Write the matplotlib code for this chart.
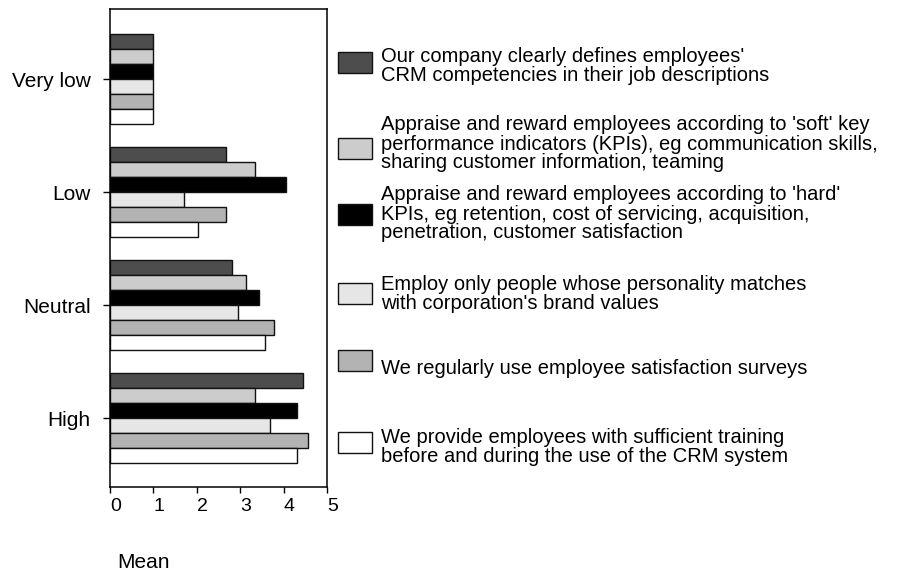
import matplotlib.pyplot as plt
import numpy as np
from matplotlib.patches import Rectangle

plt.rcParams['font.family'] = ['Liberation Sans', 'DejaVu Sans']

# data: mean score per rating group for each practice
levels = ['Very low', 'Low', 'Neutral', 'High']
defines_competencies = [1.0, 2.67, 2.8, 4.45]
soft_kpis = [1.0, 3.33, 3.13, 3.35]
hard_kpis = [1.0, 4.05, 3.43, 4.3]
brand_match = [1.0, 1.7, 2.95, 3.68]
satisfaction_surveys = [1.0, 2.67, 3.78, 4.57]
training = [1.0, 2.03, 3.57, 4.3]

series = [defines_competencies, soft_kpis, hard_kpis, brand_match,
          satisfaction_surveys, training]
labels = [
    "Our company clearly defines employees'\nCRM competencies in their job descriptions",
    "Appraise and reward employees according to 'soft' key\n"
    "performance indicators (KPIs), eg communication skills,\n"
    "sharing customer information, teaming",
    "Appraise and reward employees according to 'hard'\n"
    "KPIs, eg retention, cost of servicing, acquisition,\n"
    "penetration, customer satisfaction",
    "Employ only people whose personality matches\nwith corporation's brand values",
    "We regularly use employee satisfaction surveys",
    "We provide employees with sufficient training\nbefore and during the use of the CRM system",
]
colors = ['#4d4d4d', '#cccccc', '#000000', '#e6e6e6', '#b3b3b3', '#ffffff']

W, H = 901, 572
fig = plt.figure(figsize=(W / 100, H / 100), dpi=100)
ax = fig.add_axes([110 / W, (H - 487) / H, 217 / W, 478 / H])

y = np.arange(len(levels))
h = 0.1333
for i, (vals, c) in enumerate(zip(series, colors)):
    ax.barh(y + (i - 2.5) * h, vals, height=h, color=c,
            edgecolor='#111111', linewidth=1.0)

ax.set_xlim(0, 5)
ax.set_ylim(3.61, -0.62)
ax.set_yticks(y)
ax.set_yticklabels(levels, fontsize=15)
ax.set_xticks(range(6))
ax.set_xticklabels([str(v) for v in range(6)], fontsize=14, ha='left')
ax.tick_params(axis='y', length=5, width=1, pad=9, direction='out')
ax.tick_params(axis='x', length=4, width=1, pad=4, direction='out')
for s in ax.spines.values():
    s.set_linewidth(1.1)
    s.set_color('black')

fig.text(117 / W, 1 - 562 / H, 'Mean', fontsize=15, va='center', ha='left')

# legend drawn by hand so each entry sits beside its wrapped text
patch_y = [62, 148, 214, 293, 360, 442]
text_y = [66, 144, 214, 294, 368, 447]
for c, lab, py, ty in zip(colors, labels, patch_y, text_y):
    fig.patches.append(Rectangle((338 / W, 1 - (py + 10.5) / H), 34 / W, 21 / H,
                                 facecolor=c, edgecolor='#111111', linewidth=1.0,
                                 transform=fig.transFigure, figure=fig))
    fig.text(381 / W, 1 - ty / H, lab, fontsize=14.5, va='center', ha='left',
             linespacing=1.0)

fig.savefig('out.png', dpi=100, facecolor='white')
